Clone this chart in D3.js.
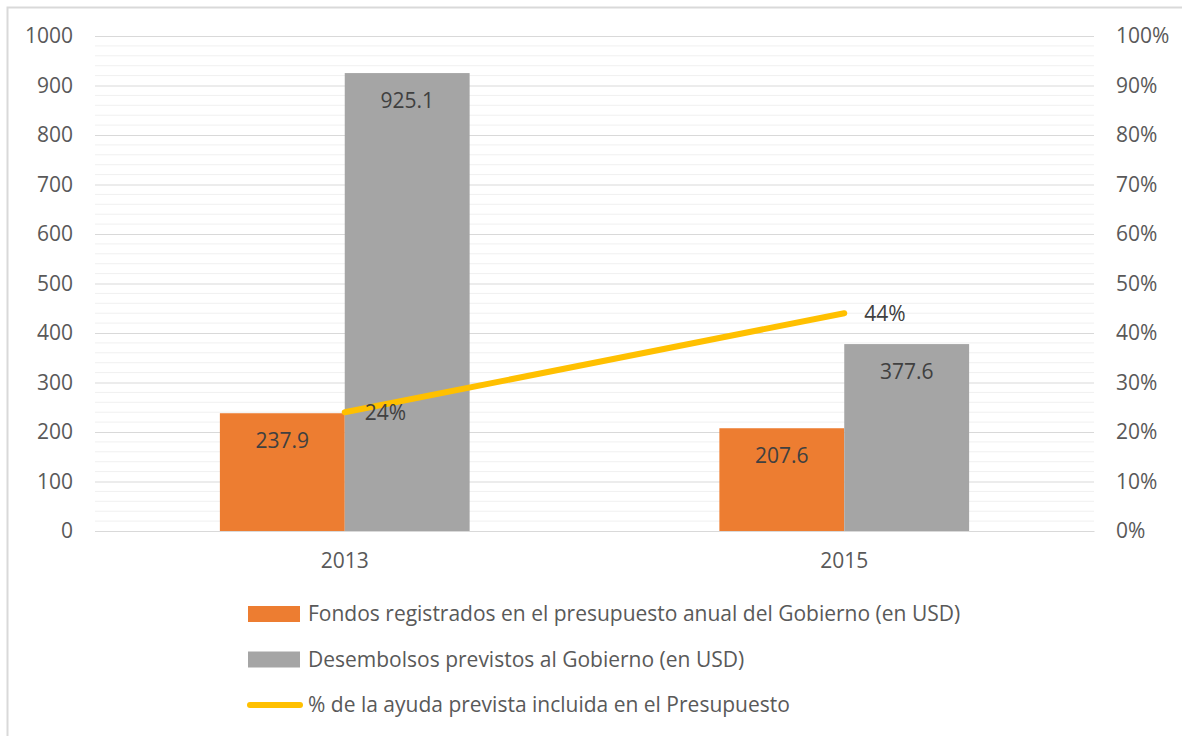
<!DOCTYPE html>
<html lang="es">
<head>
    <meta charset="UTF-8">
    <title>Chart</title>
    <style>
        html, body { margin: 0; height: 100%; overflow: hidden; background: #fff; }
    </style>
    <script src="https://d3js.org/d3.v7.min.js"></script>
</head>
<body>
    <svg id="svg"></svg>
    <script>
        const years = ['2013', '2015'];
        const fondos = [237.9, 207.6];
        const desembolsos = [925.1, 377.6];
        const porcentaje = [0.24, 0.44];
        const leftTicks = [0, 100, 200, 300, 400, 500, 600, 700, 800, 900, 1000];
        const rightTicks = [0, 0.1, 0.2, 0.3, 0.4, 0.5, 0.6, 0.7, 0.8, 0.9, 1];
        const seriesNames = [
            'Fondos registrados en el presupuesto anual del Gobierno (en USD)',
            'Desembolsos previstos al Gobierno (en USD)',
            '% de la ayuda prevista incluida en el Presupuesto'
        ];

        const font = '"Open Sans", "Noto Sans", sans-serif';
        const width = 1182, height = 736;
        const svg = d3.select('#svg').attr('width', width).attr('height', height)
            .attr('font-family', font);
        const margin = { top: 36, left: 95, right: 88, bottom: 205 };
        const innerWidth = width - margin.left - margin.right;
        const innerHeight = height - margin.top - margin.bottom;

        // chart border (right and bottom edges fall outside the picture)
        svg.append('path')
            .attr('d', `M7.5,${height} V7.5 H${width}`)
            .attr('fill', 'none').attr('stroke', '#d9d9d9').attr('stroke-width', 2);

        const g = svg.append('g').attr('transform', `translate(${margin.left},${margin.top})`);

        const yScale = d3.scaleLinear().domain([0, 1000]).range([innerHeight, 0]);
        const y2Scale = d3.scaleLinear().domain([0, 1]).range([innerHeight, 0]);
        const xScale = d3.scaleBand().domain(years).range([0, innerWidth]);
        const sub = d3.scaleBand().domain([0, 1]).range([xScale.bandwidth() / 4, xScale.bandwidth() * 3 / 4]);

        // minor gridlines
        g.append('g').selectAll('line').data(d3.range(0, 1001, 20).filter(v => v % 100 !== 0)).join('line')
            .attr('x1', 0).attr('x2', innerWidth)
            .attr('y1', d => yScale(d)).attr('y2', d => yScale(d))
            .attr('stroke', '#f0f0f0').attr('stroke-width', 1);

        // left axis with major gridlines
        const yAxis = d3.axisLeft(yScale).tickValues(leftTicks).tickSize(-innerWidth).tickPadding(22)
            .tickFormat(d3.format('d'));
        const ya = g.append('g').call(yAxis).attr('font-size', 21).attr('font-family', font);
        ya.select('.domain').remove();
        ya.selectAll('line').attr('stroke', '#d9d9d9');
        ya.selectAll('text').attr('fill', '#595959');

        const y2Axis = d3.axisRight(y2Scale).tickValues(rightTicks).tickSize(0).tickPadding(22)
            .tickFormat(d3.format('.0%'));
        const ya2 = g.append('g').attr('transform', `translate(${innerWidth},0)`).call(y2Axis)
            .attr('font-size', 21).attr('font-family', font);
        ya2.select('.domain').remove();
        ya2.selectAll('text').attr('fill', '#595959');

        const xAxis = d3.axisBottom(xScale).tickSize(0).tickPadding(22);
        const xa = g.append('g').attr('transform', `translate(0,${innerHeight})`).call(xAxis)
            .attr('font-size', 21).attr('font-family', font);
        xa.select('.domain').attr('stroke', '#d9d9d9');
        xa.selectAll('text').attr('fill', '#595959');

        const series = [
            { values: fondos, color: '#ed7d31' },
            { values: desembolsos, color: '#a5a5a5' }
        ];
        series.forEach((s, i) => {
            g.append('g').selectAll('rect').data(s.values).join('rect')
                .attr('x', (d, j) => xScale(years[j]) + sub(i))
                .attr('y', d => yScale(d))
                .attr('width', sub.bandwidth())
                .attr('height', d => innerHeight - yScale(d))
                .attr('fill', s.color);
            g.append('g').selectAll('text').data(s.values).join('text')
                .attr('x', (d, j) => xScale(years[j]) + sub(i) + sub.bandwidth() / 2)
                .attr('y', d => yScale(d) + 35)
                .attr('text-anchor', 'middle')
                .attr('fill', '#404040').attr('font-size', 21)
                .text(d => d.toFixed(1));
        });

        const cx = (d, j) => xScale(years[j]) + xScale.bandwidth() / 2;
        const line = d3.line().x((d, j) => cx(d, j)).y(d => y2Scale(d));
        g.append('path').datum(porcentaje)
            .attr('d', line)
            .attr('fill', 'none').attr('stroke', '#ffc000')
            .attr('stroke-width', 6).attr('stroke-linecap', 'round');
        g.append('g').selectAll('text').data(porcentaje).join('text')
            .attr('x', (d, j) => cx(d, j) + 20)
            .attr('y', d => y2Scale(d) + 8)
            .attr('fill', '#404040').attr('font-size', 21)
            .text(d => d3.format('.0%')(d));

        // legend
        const legend = svg.append('g').attr('transform', 'translate(248,614)');
        const rows = legend.selectAll('g').data(seriesNames).join('g')
            .attr('transform', (d, i) => `translate(0,${i * 45.5})`);
        rows.filter((d, i) => i < 2).append('rect')
            .attr('x', 0).attr('y', -8).attr('width', 52).attr('height', 16)
            .attr('fill', (d, i) => series[i].color);
        rows.filter((d, i) => i === 2).append('line')
            .attr('x1', 2).attr('x2', 52).attr('y1', 0).attr('y2', 0)
            .attr('stroke', '#ffc000').attr('stroke-width', 6).attr('stroke-linecap', 'round');
        rows.append('text')
            .attr('x', 60).attr('y', 7)
            .attr('fill', '#595959').attr('font-size', 21)
            .text(d => d);
    </script>
</body>
</html>
